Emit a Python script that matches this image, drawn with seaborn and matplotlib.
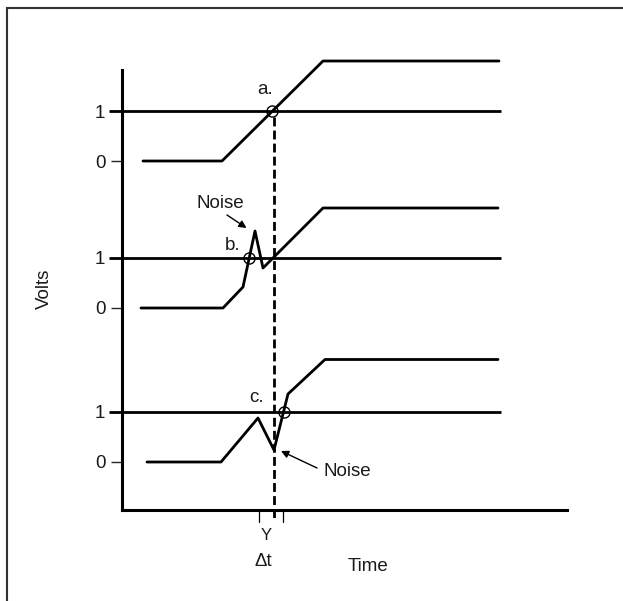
import matplotlib
matplotlib.use("Agg")
import matplotlib.pyplot as plt
import matplotlib.transforms as mtransforms
from matplotlib.patches import Rectangle
import seaborn as sns
import pandas as pd

# --- data (time in arbitrary units, volts per trace) ---
trace_names = ["a.", "b.", "c."]

time_a = [2.1, 10.0, 20.1, 37.7]
volts_a = [0.0, 0.0, 2.0, 2.0]

time_b = [1.9, 10.1, 12.1, 13.3, 14.1, 20.1, 37.6]
volts_b = [0.0, 0.0, 0.42, 1.54, 0.80, 2.0, 2.0]

time_c = [2.5, 9.9, 13.6, 15.2, 16.6, 20.3, 37.6]
volts_c = [0.0, 0.0, 0.88, 0.24, 1.36, 2.05, 2.05]

threshold_volts = 1.0
threshold_span = [-1.3, 37.9]
crossing_times = [15.0, 12.7, 16.2]   # where each trace crosses 1 V
dashed_time = 15.2
dt_bracket = [13.7, 16.1]

tick_volts = [0, 1]
tick_labels = ["0", "1"]

# vertical stacking of the three traces (layout only)
offsets = [6.02, 3.08, 0.0]

sns.set_style("white")
plt.rcParams["font.family"] = ["Liberation Sans", "DejaVu Sans"]

W, H = 623, 601
fig = plt.figure(figsize=(W / 100, H / 100), dpi=100)
ax = fig.add_axes([122 / W, (H - 510) / H, 445 / W, 440 / H])

lw = 2.0
fs = 13.5
txt_color = "#1a1a1a"

traces = [(time_a, volts_a), (time_b, volts_b), (time_c, volts_c)]
for (t, v), off in zip(traces, offsets):
    df = pd.DataFrame({"time": t, "volts": [x + off for x in v]})
    sns.lineplot(data=df, x="time", y="volts", sort=False, estimator=None,
                 color="black", lw=lw, ax=ax, clip_on=False)
    # 1 V threshold line, starting at the tick position
    ax.plot(threshold_span, [off + threshold_volts] * 2, color="black",
            lw=lw, clip_on=False, solid_capstyle="butt")

# crossing circles
for tc, off in zip(crossing_times, offsets):
    ax.plot([tc], [off + threshold_volts], marker="o", ms=8, mfc="none",
            mec="black", mew=1.0, ls="none", zorder=5, clip_on=False)

# dashed vertical reference line
ax.plot([dashed_time, dashed_time], [offsets[0] + 0.88, -1.15], color="black",
        lw=lw, ls=(0, (3.2, 1.5)), clip_on=False)

# Δt bracket ticks under the axis
for tb in dt_bracket:
    ax.plot([tb, tb], [-0.96, -1.2], color="black", lw=0.9, clip_on=False)

# trace labels
label_pos = [(14.3, offsets[0] + 1.42), (11.1, offsets[1] + 1.26), (13.5, offsets[2] + 1.30)]
for name, (lx, ly) in zip(trace_names, label_pos):
    ax.text(lx, ly, name, ha="center", va="center", fontsize=fs, color=txt_color)

# noise annotations: text and arrow drawn separately
arrow_kw = dict(arrowstyle="-|>", color="black", lw=1.0, mutation_scale=11,
                shrinkA=0, shrinkB=0)
ax.text(9.8, offsets[1] + 2.1, "Noise", ha="center", va="center",
        fontsize=fs, color=txt_color)
ax.annotate("", xy=(12.45, offsets[1] + 1.6), xytext=(10.5, offsets[1] + 1.86),
            arrowprops=arrow_kw)
ax.text(22.5, offsets[2] - 0.18, "Noise", ha="center", va="center",
        fontsize=fs, color=txt_color)
ax.annotate("", xy=(15.9, offsets[2] + 0.22), xytext=(19.5, offsets[2] - 0.12),
            arrowprops=arrow_kw)

# axes, ticks
ax.set_xlim(0, 44.5)
ax.set_ylim(-0.96, 7.84)
yt = [off + v for off in offsets for v in tick_volts]
ax.set_yticks(yt)
ax.set_yticklabels(tick_labels * len(offsets))
ax.set_xticks([])
ax.tick_params(axis="y", left=True, length=8, width=1.0, pad=4,
               labelsize=fs, labelcolor=txt_color)
for side in ["top", "right"]:
    ax.spines[side].set_visible(False)
for side in ["left", "bottom"]:
    ax.spines[side].set_linewidth(2.2)
    ax.spines[side].set_color("black")

ax.set_ylabel("Volts", fontsize=fs, color=txt_color)
ax.yaxis.set_label_coords(-0.155, 0.502)
ax.set_xlabel("Time", fontsize=fs, color=txt_color)
ax.xaxis.set_label_coords(0.553, -0.109)

blend = mtransforms.blended_transform_factory(ax.transData, ax.transAxes)
ax.text(14.4, -0.059, "Y", transform=blend, ha="center", va="center",
        fontsize=12, color=txt_color)
ax.text(14.1, -0.116, "Δt", transform=blend, ha="center", va="center",
        fontsize=fs, color=txt_color)

# frame around the figure (left and top edges visible)
fig.patches.append(Rectangle((6.5 / W, -0.1), 1.2, 1.1 - 7.5 / H,
                             transform=fig.transFigure, fill=False,
                             edgecolor="#333333", lw=1.5))

fig.savefig("out.png", dpi=100)
